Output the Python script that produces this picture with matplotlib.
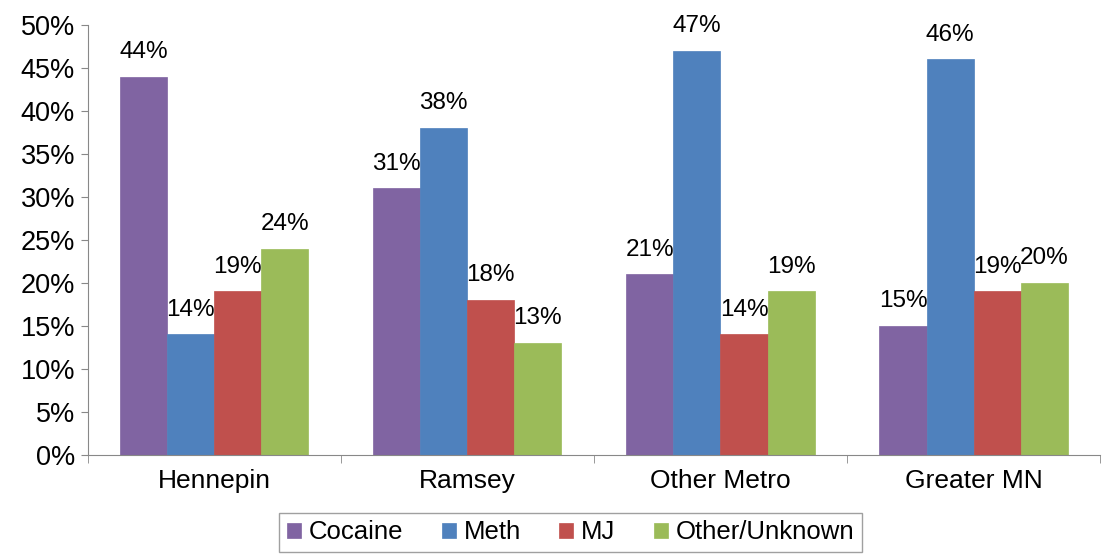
import matplotlib.pyplot as plt
import numpy as np
from matplotlib.ticker import FixedLocator, PercentFormatter

regions = ['Hennepin', 'Ramsey', 'Other Metro', 'Greater MN']
series = ['Cocaine', 'Meth', 'MJ', 'Other/Unknown']
cocaine = [44, 31, 21, 15]
meth = [14, 38, 47, 46]
mj = [19, 18, 14, 19]
other = [24, 13, 19, 20]
values = [cocaine, meth, mj, other]
colors = ['#8064A2', '#4F81BD', '#C0504D', '#9BBB59']

plt.rcParams['font.family'] = ['Liberation Sans', 'DejaVu Sans']
fig = plt.figure(figsize=(11.08, 5.58), dpi=100)
ax = fig.add_axes([0.079, 0.185, 0.914, 0.77])

x = np.arange(len(regions))
w = 0.186
for i, (name, vals, c) in enumerate(zip(series, values, colors)):
    pos = x + (i - 1.5) * w
    ax.bar(pos, vals, w, color=c, label=name, edgecolor=c, linewidth=0.5)
    for p, v in zip(pos, vals):
        ax.text(p, v + 1.6, f'{v}%', ha='center', va='bottom', fontsize=17.5)

ax.set_xlim(-0.5, len(regions) - 0.5)
ax.set_ylim(0, 50)
ax.set_yticks(np.arange(0, 51, 5))
ax.yaxis.set_major_formatter(PercentFormatter(decimals=0))
ax.set_xticks(x)
ax.set_xticklabels(regions, fontsize=19)
ax.tick_params(axis='x', length=0, pad=10)
ax.xaxis.set_minor_locator(FixedLocator(np.arange(-0.5, len(regions), 1)))
ax.tick_params(axis='x', which='minor', length=6, direction='out', color='#888888')
ax.tick_params(axis='y', labelsize=19.5, length=5, pad=4, color='#888888')
for s in ['top', 'right']:
    ax.spines[s].set_visible(False)
for s in ['left', 'bottom']:
    ax.spines[s].set_color('#888888')

ax.legend(loc='upper center', bbox_to_anchor=(0.477, -0.105), ncol=4, fontsize=18.5,
          frameon=True, fancybox=False, edgecolor='#888888', handlelength=0.55,
          handleheight=0.55, handletextpad=0.3, columnspacing=1.5, borderpad=0.3)

fig.savefig('out.png', dpi=100)
